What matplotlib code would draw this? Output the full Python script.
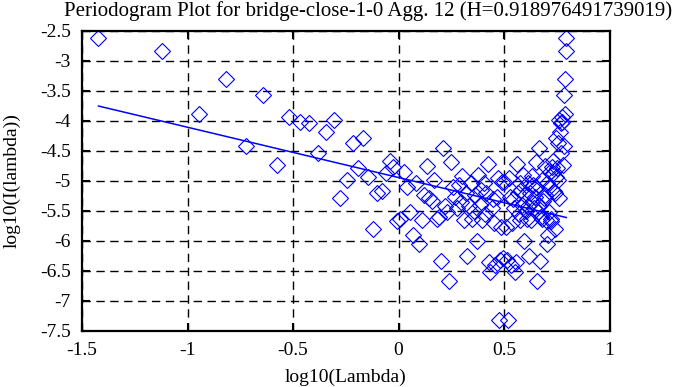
import numpy as np
import matplotlib
matplotlib.use("Agg")
import matplotlib.pyplot as plt

plt.rcParams['font.family'] = ['Liberation Serif', 'DejaVu Serif']
plt.rcParams['axes.unicode_minus'] = False

# series length of the aggregated trace, frequencies lambda_k = 2*pi*k/n
n_samples = 166
freq_index = np.arange(1, n_samples)

# log10 of the periodogram, k = 1..83
log_I_low = [
    -2.63, -2.84, -3.89, -3.31, -4.42, -3.57, -4.73, -3.94, -4.02, -4.04,
    -4.53, -4.19, -3.98, -5.29, -4.99, -4.37, -4.79, -4.28, -4.94, -5.80,
    -5.21, -5.18, -4.87, -4.68, -4.77, -5.67, -5.63, -4.85, -5.10, -5.52,
    -5.90, -5.03, -6.05, -5.65, -5.24, -4.75, -5.28, -5.33, -4.98, -5.63,
    -5.60, -6.34, -4.46, -5.43, -5.52, -6.67, -4.69, -5.10, -5.27, -5.46,
    -5.07, -5.35, -4.93, -5.66, -5.21, -6.26, -5.43, -5.04, -5.63, -5.50,
    -5.24, -6.01, -4.90, -5.40, -5.15, -5.66, -5.04, -5.55, -5.21, -4.72,
    -6.35, -6.52, -5.46, -5.30, -5.71, -6.40, -5.27, -4.96, -7.32, -6.32,
    -5.77, -5.02, -6.28,
]
# k = 84..165 (the periodogram is symmetric about pi)
log_I_high = [
    -5.02, -5.77, -6.32, -7.32, -4.96, -5.27, -6.40, -5.71, -5.30, -5.46,
    -6.52, -6.35, -4.72, -5.21, -5.55, -5.04, -5.66, -5.15, -5.40, -4.90,
    -6.01, -5.24, -5.50, -5.63, -5.04, -5.43, -6.26, -5.21, -5.66, -4.93,
    -5.35, -5.07, -5.46, -5.27, -5.10, -4.69, -6.67, -5.52, -5.43, -4.46,
    -6.34, -5.60, -5.63, -4.98, -5.33, -5.28, -4.75, -5.24, -5.65, -6.05,
    -5.03, -5.90, -5.52, -5.10, -4.85, -5.63, -5.67, -4.77, -4.68, -4.87,
    -5.18, -5.21, -5.80, -4.94, -4.28, -4.79, -4.37, -4.99, -5.29, -3.98,
    -4.19, -4.53, -4.04, -4.02, -3.94, -4.73, -3.57, -4.42, -3.31, -3.89,
    -2.84, -2.63,
]

# least squares fit shown on the plot (slope = 1 - 2H)
fit_slope = -0.838
fit_intercept = -4.947

x_ticks = [-1.5, -1, -0.5, 0, 0.5, 1]
y_ticks = [-2.5, -3, -3.5, -4, -4.5, -5, -5.5, -6, -6.5, -7, -7.5]

log_lambda = np.log10(2 * np.pi * freq_index / n_samples)
log_I = np.array(log_I_low + log_I_high)

fig = plt.figure(figsize=(6.88, 3.87), dpi=100)
ax = fig.add_axes([82 / 688, 1 - 330.7 / 387, 527.5 / 688, 300 / 387])

ax.plot(log_lambda, log_I, linestyle='none', marker='D', markersize=8,
        markerfacecolor='none', markeredgecolor='#0000ff', markeredgewidth=0.8)

fit_x = np.array([log_lambda[0], log_lambda[-1]])
ax.plot(fit_x, fit_intercept + fit_slope * fit_x, color='#0000ff', linewidth=1.1)

ax.set_xlim(-1.5, 1)
ax.set_ylim(-7.5, -2.5)
ax.set_xticks(x_ticks)
ax.set_yticks(y_ticks)
ax.set_xticklabels(['-1.5', '-1', '-0.5', '0', '0.5', '1'])
ax.set_yticklabels(['-2.5', '-3', '-3.5', '-4', '-4.5', '-5', '-5.5', '-6',
                    '-6.5', '-7', '-7.5'])

ax.grid(True, color='black', linestyle=(0, (6, 4)), linewidth=1.0)
ax.tick_params(direction='in', length=6, width=1.5, top=True, right=True,
               labelsize=14, pad=8)
for s in ax.spines.values():
    s.set_linewidth(1.6)

ax.set_xlabel('log10(Lambda)', fontsize=14, labelpad=7)
ax.set_ylabel('log10(I(lambda))', fontsize=14, labelpad=14)
fig.text(368 / 688, 1 - 11 / 387,
         'Periodogram Plot for bridge-close-1-0 Agg. 12 (H=0.918976491739019)',
         fontsize=15, ha='center', va='center')

fig.savefig('out.png', dpi=100)
